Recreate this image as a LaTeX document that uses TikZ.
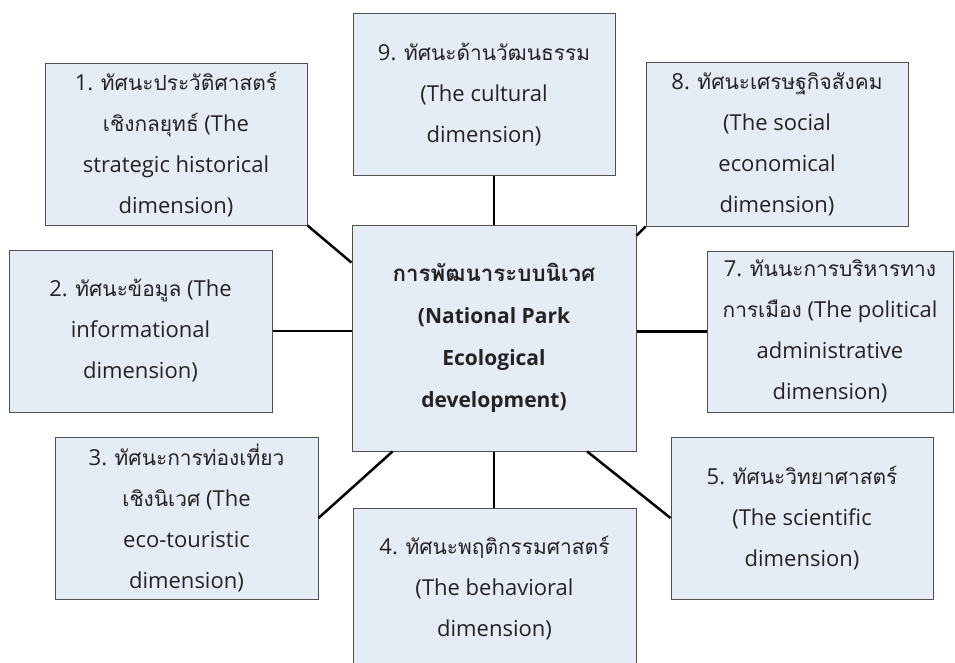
\documentclass[tikz,border=0pt]{standalone}
\usepackage{fontspec}
\setmainfont{Open Sans}
\newfontfamily\thaifnt[Script=Thai,Scale=0.95]{Loma}
\usetikzlibrary{calc}
\definecolor{boxfill}{RGB}{230,236,246}
\definecolor{boxline}{RGB}{80,80,80}
\definecolor{txt}{RGB}{35,35,35}
\newcommand{\thx}[1]{{\thaifnt #1}}
\begin{document}
\begin{tikzpicture}[x=1pt,y=-1pt,
  box/.style={draw=boxline, fill=boxfill, line width=1pt, inner sep=0pt,
    align=center, text=txt, font=\fontsize{22}{41}\selectfont},
  link/.style={line width=2.5pt, draw=black}]
\useasboundingbox (0,0) rectangle (955,663);
\clip (0,0) rectangle (955,663);
\node[box, minimum width=262pt, minimum height=161pt] (b1) at (176,144.5)
  {1. \thx{ทัศนะประวัติศาสตร์}\\\thx{เชิงกลยุทธ์} (The\\strategic historical\\dimension)};
\node[box, minimum width=262pt, minimum height=162pt] (b9) at (484,95)
  {9. \thx{ทัศนะด้านวัฒนธรรม}\\(The cultural\\dimension)};
\node[box, minimum width=262pt, minimum height=163pt] (b8) at (777,144.5)
  {8. \thx{ทัศนะเศรษฐกิจสังคม}\\(The social\\economical\\dimension)};
\node[box, minimum width=284pt, minimum height=226pt, font=\fontsize{21}{42}\selectfont\bfseries] (c) at (494,338)
  {{\fontsize{23.5}{42}\selectfont\thaifnt การพัฒนาระบบนิเวศ}\\(National Park\\Ecological\\development)};
\node[box, minimum width=263pt, minimum height=162pt] (b2) at (140.5,331)
  {2. \thx{ทัศนะข้อมูล} (The\\informational\\dimension)};
\node[box, minimum width=246pt, minimum height=161pt] (b7) at (830,331.5)
  {7. \thx{ทันนะการบริหารทาง}\\\thx{การเมือง} (The political\\administrative\\dimension)};
\node[box, minimum width=263pt, minimum height=162pt] (b3) at (186.5,518)
  {3. \thx{ทัศนะการท่องเที่ยว}\\\thx{เชิงนิเวศ} (The\\eco-touristic\\dimension)};
\node[box, minimum width=262pt, minimum height=162pt] (b5) at (802,518)
  {5. \thx{ทัศนะวิทยาศาสตร์}\\(The scientific\\dimension)};
\node[box, minimum width=283pt, minimum height=160pt] (b4) at (494.5,588)
  {4. \thx{ทัศนะพฤติกรรมศาสตร์}\\(The behavioral\\dimension)};
\draw[link] (b1.south east) -- ($(c.north west)!0.168!(c.south west)$);
\draw[link] (b2.east) -- (b2.east -| c.west);
\draw[link] (c.north) -- (c.north |- b9.south);
\draw[link] (b8.south west) -- ($(c.north east)!0.049!(c.south east)$);
\draw[link] (b7.west) -- (b7.west -| c.east);
\draw[link] (b3.east) -- ($(c.south west)!0.144!(c.south east)$);
\draw[link] (c.south) -- (c.south |- b4.north);
\draw[link] ($(c.south west)!0.827!(c.south east)$) -- (b5.west);
\end{tikzpicture}
\end{document}
